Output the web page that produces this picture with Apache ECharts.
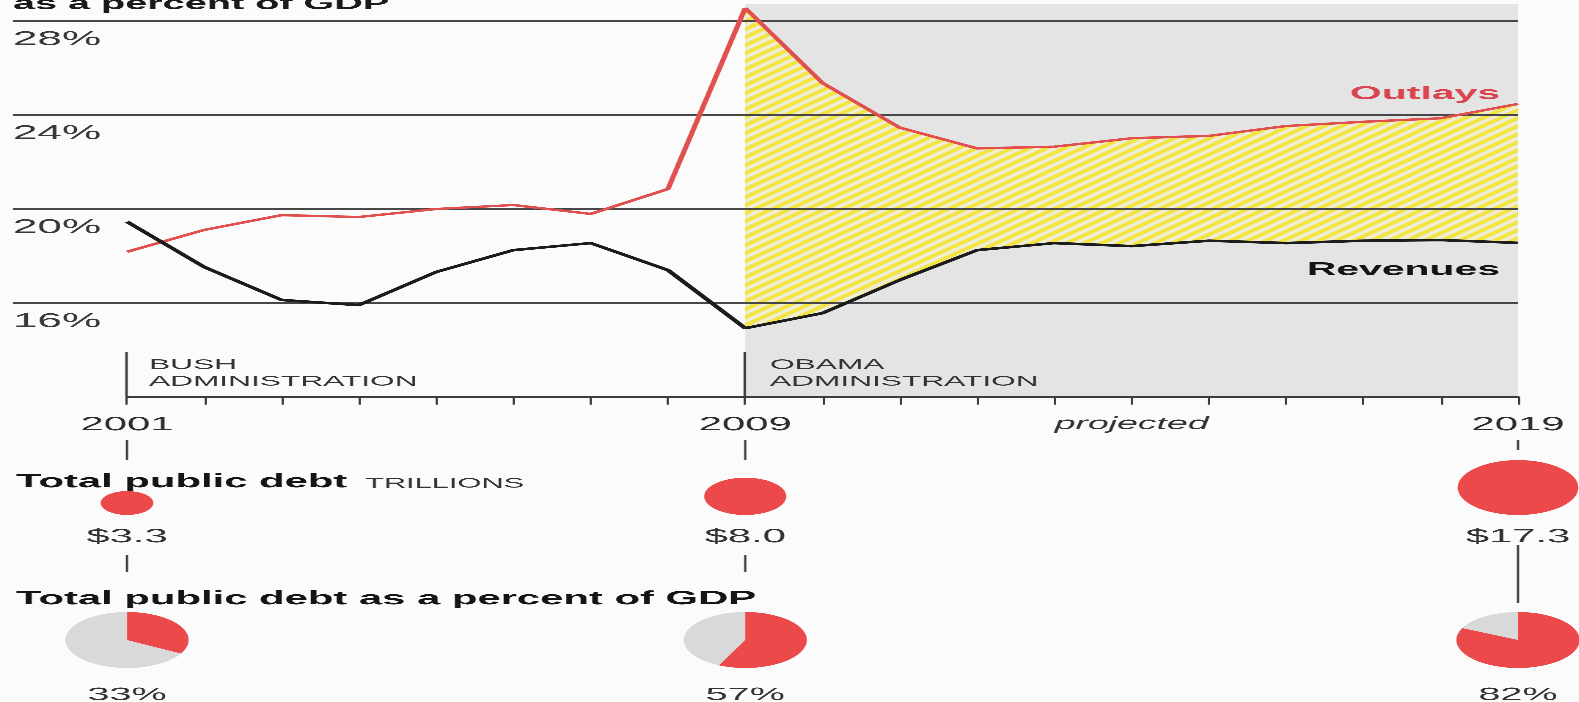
<!DOCTYPE html>
<html>
<head>
<meta charset="utf-8">
<script src="https://cdn.jsdelivr.net/npm/echarts@6/dist/echarts.min.js"></script>
<style>
  html, body { margin: 0; padding: 0; background: #fbfbfb; overflow: hidden; }
  #wrap { width: 1579px; height: 702px; overflow: hidden; }
  /* the original newspaper graphic is stretched horizontally; reproduce it */
  #chart { width: 718px; height: 702px; transform: scaleX(2.2); transform-origin: 0 0; }
</style>
</head>
<body>
<div id="wrap"><div id="chart"></div></div>
<script>
// ---------------- data ----------------
const years = [2001, 2002, 2003, 2004, 2005, 2006, 2007, 2008, 2009, 2010,
               2011, 2012, 2013, 2014, 2015, 2016, 2017, 2018, 2019];
const outlays = [18.16, 19.09, 19.72, 19.64, 19.98, 20.15, 19.77, 20.83, 28.53, 25.34,
                 23.44, 22.56, 22.63, 22.99, 23.09, 23.51, 23.69, 23.84, 24.45];
const revenues = [19.44, 17.51, 16.11, 15.89, 17.30, 18.23, 18.53, 17.38, 14.91, 15.55,
                  16.96, 18.23, 18.53, 18.40, 18.63, 18.53, 18.63, 18.66, 18.54];
const yTickValues = [16, 20, 24, 28];
const yTickLabels = ['16%', '20%', '24%', '28%'];
const yearLabelValues = [2001, 2009, 2019];
const projectedStart = 2009;
const projectedEnd = 2019;
const projectedLabelYear = 2014;
const projectedLabel = 'projected';
const adminStarts = [2001, 2009];
const adminNames = ['BUSH\nADMINISTRATION', 'OBAMA\nADMINISTRATION'];
const debtYears = [2001, 2009, 2019];
const debtTrillions = [3.3, 8.0, 17.3];
const debtPctGDP = [33, 57, 82];

// ---------------- layout / style ----------------
const SX = 2.2, W = 718;
const GL = 127 / SX, GR = W - 1518 / SX;
const GT = 4, GH = 392.6;
const YMIN = 12, YMAX = 28.7;
const SANS = '"Liberation Sans", Arial, sans-serif';
const RED = '#ec4a4a';
const RED_LINE = '#e0504f';
const INK = '#333333';
const TY = 5.5; // text baseline correction

// hatch pattern
const pc = document.createElement('canvas');
pc.width = 8; pc.height = 8;
const g = pc.getContext('2d');
g.fillStyle = '#efeddc'; g.fillRect(0, 0, 8, 8);
g.strokeStyle = '#f3e43c'; g.lineWidth = 3;
g.beginPath();
for (let c = 0; c <= 16; c += 8) { g.moveTo(-1, c + 1); g.lineTo(c + 1, -1); }
g.stroke();

const projIdx = years.map((y, i) => i).filter(i => years[i] >= projectedStart);

const chart = echarts.init(document.getElementById('chart'), null, { renderer: 'canvas', devicePixelRatio: 3 });

const txt = (x, y, style) => ({ type: 'text', x: x, y: y, z: 10, silent: true,
                                style: Object.assign({ verticalAlign: 'middle' }, style) });

const option = {
  backgroundColor: '#fbfbfb',
  animation: false,
  grid: [
    { left: 13 / SX, right: GR, top: GT, height: GH },
    { left: GL, right: GR, top: GT, height: GH },
    { left: GL, right: GR, top: 400, bottom: 0 }
  ],
  xAxis: [
    { gridIndex: 0, type: 'value', min: 0, max: 1, show: false },
    { gridIndex: 1, type: 'value', min: 2001, max: 2019, interval: 1, z: 3,
      axisLine: { show: true, onZero: false, lineStyle: { color: '#3c3c3c', width: 1.5 } },
      axisTick: { show: true, length: 8, lineStyle: { color: '#3c3c3c', width: 1 } },
      splitLine: { show: false },
      axisLabel: {
        show: true, margin: 19, fontSize: 19, fontFamily: SANS, color: '#2e2e2e',
        formatter: v => yearLabelValues.includes(v) ? String(v)
          : (v === projectedLabelYear ? '{p|' + projectedLabel + '}' : ''),
        rich: { p: { fontStyle: 'italic', fontSize: 17, fontFamily: SANS, color: '#333', padding: [0, 0, 6, 0] } }
      } },
    { gridIndex: 2, type: 'value', min: 2001, max: 2019, show: false }
  ],
  yAxis: [
    { gridIndex: 0, type: 'value', min: YMIN, max: YMAX, interval: 4, z: 3,
      axisLine: { show: false }, axisTick: { show: false },
      splitLine: { show: true, showMinLine: false, showMaxLine: false,
                   lineStyle: { color: '#474747', width: 1.7 } },
      axisLabel: {
        inside: true, margin: 0, verticalAlign: 'top', padding: [9, 0, 0, 0],
        fontSize: 20, fontFamily: SANS, color: '#383838',
        formatter: v => { const i = yTickValues.indexOf(v); return i >= 0 ? yTickLabels[i] : ''; }
      } },
    { gridIndex: 1, type: 'value', min: YMIN, max: YMAX, show: false },
    { gridIndex: 2, type: 'value', min: 0, max: 1, show: false }
  ],
  graphic: [
    txt(13 / SX, 4, { text: 'as a percent of GDP', font: 'bold 18px ' + SANS, fill: '#1a1a1a' }),
    txt(149 / SX, 368 + TY, { text: adminNames[0], font: '14.4px ' + SANS, lineHeight: 16.7, fill: INK }),
    txt(770 / SX, 368 + TY, { text: adminNames[1], font: '14.4px ' + SANS, lineHeight: 16.7, fill: INK }),
    txt(1500 / SX, 88.5 + TY, { text: 'Outlays', font: 'bold 18.6px ' + SANS, fill: '#d9464f', align: 'right' }),
    txt(1500 / SX, 264.5 + TY, { text: 'Revenues', font: 'bold 18.6px ' + SANS, fill: '#141414', align: 'right' }),
    txt(16 / SX, 476.7 + TY, { text: 'Total public debt', font: 'bold 19px ' + SANS, fill: '#151515' }),
    txt(365 / SX, 478.4 + TY, { text: 'TRILLIONS', font: '14px ' + SANS, fill: INK }),
    txt(16 / SX, 593.7 + TY, { text: 'Total public debt as a percent of GDP', font: 'bold 19px ' + SANS, fill: '#151515' })
  ],
  series: [
    { name: 'shade', type: 'line', xAxisIndex: 1, yAxisIndex: 1, z: 1, silent: true,
      data: projIdx.map(i => [years[i], revenues[i]]), symbol: 'none', lineStyle: { opacity: 0 },
      markArea: { silent: true, z: 1, itemStyle: { color: '#e4e4e4' },
                  data: [[{ xAxis: projectedStart }, { xAxis: projectedEnd }]] } },
    { name: 'deficit', type: 'custom', xAxisIndex: 1, yAxisIndex: 1, z: 2, silent: true,
      data: projIdx.map(i => [years[i], outlays[i], revenues[i]]),
      renderItem: (params, api) => {
        if (params.dataIndex !== 0) return null;
        const top = projIdx.map(i => api.coord([years[i], outlays[i]]));
        const bot = projIdx.map(i => api.coord([years[i], revenues[i]])).reverse();
        const pts = top.concat(bot);
        return { type: 'group', children: [
          { type: 'polygon', shape: { points: pts }, style: { fill: '#f1eb9a' } },
          { type: 'polygon', shape: { points: pts }, style: { fill: { image: pc, repeat: 'repeat' } } }
        ] };
      } },
    { name: 'Outlays', type: 'line', xAxisIndex: 1, yAxisIndex: 1, z: 4, clip: false, silent: true,
      data: years.map((y, i) => [y, outlays[i]]), symbol: 'none',
      lineStyle: { color: RED_LINE, width: 2.4 } },
    { name: 'Revenues', type: 'line', xAxisIndex: 1, yAxisIndex: 1, z: 4, clip: false, silent: true,
      data: years.map((y, i) => [y, revenues[i]]), symbol: 'none',
      lineStyle: { color: '#1c1c1c', width: 2.6 },
      markLine: { silent: true, symbol: 'none', animation: false,
                  lineStyle: { color: '#3c3c3c', width: 1.1, type: 'solid' }, label: { show: false },
                  data: adminStarts.map(y => [{ coord: [y, YMIN] }, { coord: [y, 13.9] }]) } },
    { name: 'debt', type: 'custom', xAxisIndex: 2, yAxisIndex: 2, z: 5, silent: true,
      data: debtYears.map((y, i) => [y, debtTrillions[i]]),
      renderItem: (params, api) => {
        const x = api.coord([api.value(0), 0])[0];
        const v = api.value(1);
        const r = 6.6 * Math.sqrt(v);
        const last = params.dataIndex === debtYears.length - 1;
        const ls = { stroke: '#3c3c3c', lineWidth: 1 };
        return { type: 'group', children: [
          { type: 'line', shape: { x1: x, y1: 440, x2: x, y2: last ? 450 : 460 }, style: ls },
          { type: 'circle', shape: { cx: x, cy: 515 - r, r: r }, style: { fill: RED } },
          { type: 'text', style: { text: '$' + v.toFixed(1), x: x, y: 531.5 + TY, align: 'center', verticalAlign: 'middle',
                                   font: '19px ' + SANS, fill: INK } },
          { type: 'line', shape: { x1: x, y1: last ? 545 : 555, x2: x, y2: last ? 603 : 572 }, style: ls }
        ] };
      } },
    { name: 'pct', type: 'custom', xAxisIndex: 2, yAxisIndex: 2, z: 5, silent: true,
      data: debtYears.map((y, i) => [y, debtPctGDP[i]]),
      renderItem: (params, api) => {
        const x = api.coord([api.value(0), 0])[0];
        const p = api.value(1);
        const cy = 640, r = 28;
        return { type: 'group', children: [
          { type: 'circle', shape: { cx: x, cy: cy, r: r }, style: { fill: '#d9d9d9' } },
          { type: 'sector', shape: { cx: x, cy: cy, r0: 0, r: r, startAngle: -Math.PI / 2,
                                     endAngle: -Math.PI / 2 + 2 * Math.PI * p / 100, clockwise: true },
            style: { fill: RED } },
          { type: 'text', style: { text: p + '%', x: x, y: 689.5 + TY, align: 'center', verticalAlign: 'middle',
                                   font: '18px ' + SANS, fill: INK } }
        ] };
      } }
  ]
};
chart.setOption(option);
</script>
</body>
</html>
